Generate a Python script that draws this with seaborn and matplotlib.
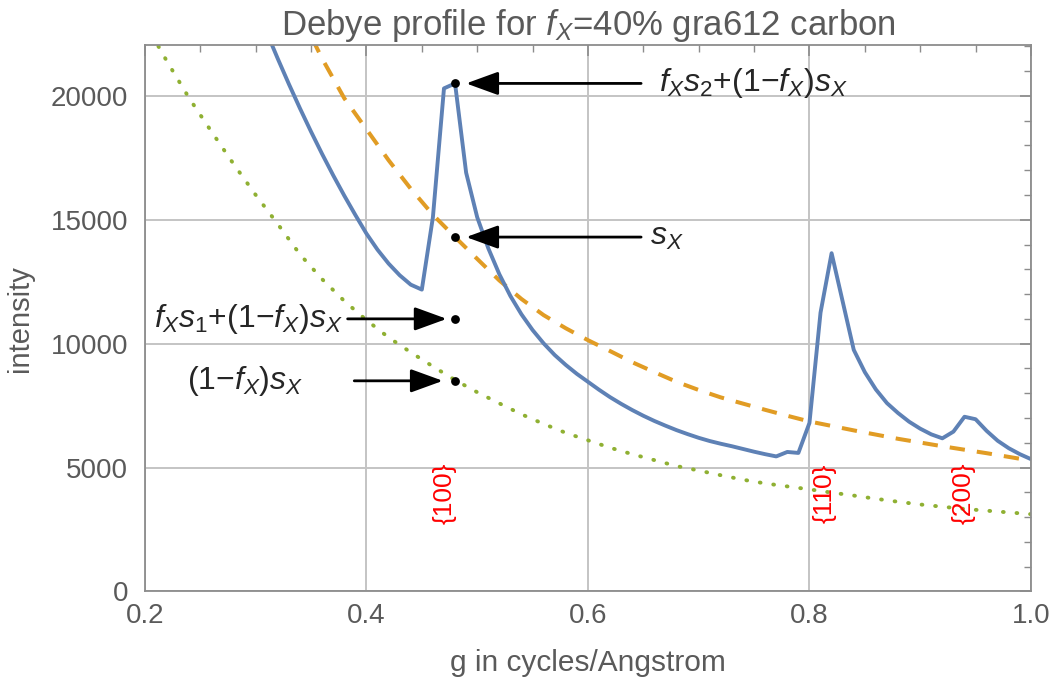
import matplotlib
matplotlib.use("Agg")
import matplotlib.pyplot as plt
from matplotlib.ticker import MultipleLocator
import seaborn as sns

# full profile f_X*s + (1-f_X)*s_X  (blue)
g_profile = [0.31, 0.32, 0.33, 0.34, 0.35, 0.36, 0.37, 0.38, 0.39, 0.40,
             0.41, 0.42, 0.43, 0.44, 0.45, 0.46, 0.47, 0.48, 0.49, 0.50,
             0.51, 0.52, 0.53, 0.54, 0.55, 0.56, 0.57, 0.58, 0.59, 0.60,
             0.61, 0.62, 0.63, 0.64, 0.65, 0.66, 0.67, 0.68, 0.69, 0.70,
             0.71, 0.72, 0.73, 0.74, 0.75, 0.76, 0.77, 0.78, 0.79, 0.80,
             0.81, 0.82, 0.83, 0.84, 0.85, 0.86, 0.87, 0.88, 0.89, 0.90,
             0.91, 0.92, 0.93, 0.94, 0.95, 0.96, 0.97, 0.98, 0.99, 1.00]
profile = [22550, 21490, 20470, 19490, 18550, 17650, 16790, 15970, 15190, 14440,
           13790, 13230, 12760, 12380, 12180, 15100, 20300, 20500, 16900, 15100,
           13850, 12800, 11920, 11180, 10550, 10010, 9540, 9140, 8780, 8460,
           8140, 7840, 7570, 7320, 7090, 6880, 6690, 6510, 6350, 6200,
           6070, 5960, 5860, 5750, 5640, 5540, 5450, 5630, 5590, 6800,
           11250, 13650, 11700, 9750, 8850, 8150, 7600, 7200, 6850, 6570,
           6340, 6180, 6450, 7050, 6950, 6480, 6080, 5780, 5540, 5340]

# s_X (orange dashed)
g_sx = [0.34, 0.36, 0.38, 0.40, 0.42, 0.44, 0.46, 0.48, 0.50, 0.52,
        0.54, 0.56, 0.58, 0.60, 0.62, 0.64, 0.66, 0.68, 0.70, 0.72,
        0.74, 0.76, 0.78, 0.80, 0.82, 0.84, 0.86, 0.88, 0.90, 0.92,
        0.94, 0.96, 0.98, 1.00]
s_x = [23300, 21500, 19900, 18650, 17400, 16250, 15200, 14300, 13420, 12550,
       11800, 11150, 10620, 10140, 9700, 9250, 8850, 8460, 8130, 7830,
       7580, 7330, 7090, 6860, 6680, 6500, 6330, 6160, 6010, 5860,
       5720, 5580, 5430, 5280]

# (1-f_X)*s_X (green dotted)
g_bg = [0.20, 0.22, 0.24, 0.26, 0.28, 0.30, 0.32, 0.34, 0.36, 0.38,
        0.40, 0.42, 0.44, 0.46, 0.48, 0.50, 0.52, 0.54, 0.56, 0.58,
        0.60, 0.62, 0.64, 0.66, 0.68, 0.70, 0.72, 0.74, 0.76, 0.78,
        0.80, 0.82, 0.84, 0.86, 0.88, 0.90, 0.92, 0.94, 0.96, 0.98, 1.00]
bg = [22950, 21380, 19900, 18560, 17250, 16000, 14820, 13600, 12600, 11720,
      10950, 10250, 9650, 9080, 8530, 8040, 7590, 7150, 6760, 6400,
      6100, 5800, 5540, 5300, 5060, 4880, 4690, 4510, 4360, 4240,
      4120, 3990, 3870, 3740, 3620, 3510, 3420, 3330, 3260, 3190, 3120]

# marked points at the {100} ring and their labels
dot_g = [0.48, 0.48, 0.48, 0.48]
dot_y = [20500, 14300, 11000, 8500]
dot_labels = [r'$f_X s_2$+(1−$f_X$)$s_X$', r'$s_X$',
              r'$f_X s_1$+(1−$f_X$)$s_X$', r'(1−$f_X$)$s_X$']

hkl_labels = ['{100}', '{110}', '{200}']
hkl_g = [0.471, 0.814, 0.939]

sns.set_style("white")
plt.rcParams['font.family'] = ['Liberation Sans', 'DejaVu Sans']
plt.rcParams['mathtext.fontset'] = 'custom'
plt.rcParams['mathtext.rm'] = 'Liberation Sans'
plt.rcParams['mathtext.it'] = 'Liberation Sans:italic'

fig = plt.figure(figsize=(10.55, 6.83), dpi=100)
ax = fig.add_axes([0.1374, 0.134, 0.8398, 0.8001])

sns.lineplot(x=g_bg, y=bg, ax=ax, color='#8FB032', lw=2.8,
             linestyle=(0, (0.2, 3.3)), dash_capstyle='round')
sns.lineplot(x=g_sx, y=s_x, ax=ax, color='#E19C24', lw=2.9,
             linestyle=(0, (3.8, 3.0)))
sns.lineplot(x=g_profile, y=profile, ax=ax, color='#5E81B5', lw=2.8)
sns.scatterplot(x=dot_g, y=dot_y, ax=ax, color='black', s=40,
                linewidth=0, zorder=5)

# arrows pointing at the marked points
arrow_style = '-|>,head_length=0.55,head_width=0.2'
arrow_props = dict(arrowstyle=arrow_style, color='black', lw=2,
                   mutation_scale=36, shrinkA=0, shrinkB=0)
ax.annotate('', xy=(0.490, dot_y[0]), xytext=(0.648, dot_y[0]), arrowprops=arrow_props)
ax.annotate('', xy=(0.490, dot_y[1]), xytext=(0.648, dot_y[1]), arrowprops=arrow_props)
ax.annotate('', xy=(0.4725, dot_y[2]), xytext=(0.383, dot_y[2]), arrowprops=arrow_props)
ax.annotate('', xy=(0.469, dot_y[3]), xytext=(0.389, dot_y[3]), arrowprops=arrow_props)

ax.text(0.664, dot_y[0], dot_labels[0], fontsize=23, ha='left', va='center')
ax.text(0.656, dot_y[1], dot_labels[1], fontsize=23, ha='left', va='center')
ax.text(0.379, dot_y[2], dot_labels[2], fontsize=23, ha='right', va='center')
ax.text(0.238, dot_y[3], dot_labels[3], fontsize=23, ha='left', va='center')

for lab, g in zip(hkl_labels, hkl_g):
    ax.text(g, 3950, lab, rotation=90, color='red', fontsize=19,
            ha='center', va='center')

ax.set_xlim(0.2, 1.0)
ax.set_ylim(0, 22050)
ax.set_xticks([0.2, 0.4, 0.6, 0.8, 1.0])
ax.set_xticklabels(['0.2', '0.4', '0.6', '0.8', '1.0'])
ax.set_yticks([0, 5000, 10000, 15000, 20000])
ax.xaxis.set_minor_locator(MultipleLocator(0.05))
ax.yaxis.set_minor_locator(MultipleLocator(1000))
ax.tick_params(which='both', direction='in', top=True, right=True,
               color='#8c8c8c', labelcolor='#5a5a5a', labelsize=20)
ax.tick_params(which='major', length=8, width=1.2)
ax.tick_params(which='minor', length=5, width=1.0)
ax.tick_params(axis='x', pad=8)
ax.tick_params(axis='y', pad=12)
ax.grid(True, which='major', color='#c4c4c4', lw=1.4)
ax.set_axisbelow(True)
for sp in ax.spines.values():
    sp.set_color('#8c8c8c')
    sp.set_linewidth(1.3)

ax.set_xlabel('g in cycles/Angstrom', fontsize=21.5, color='#5a5a5a', labelpad=15)
ax.set_ylabel('intensity', fontsize=21, color='#5a5a5a', labelpad=12)
ax.set_title(r'Debye profile for $f_X$=40% gra612 carbon', fontsize=25,
             color='#5a5a5a', pad=7)

fig.savefig('out.png', dpi=100)
